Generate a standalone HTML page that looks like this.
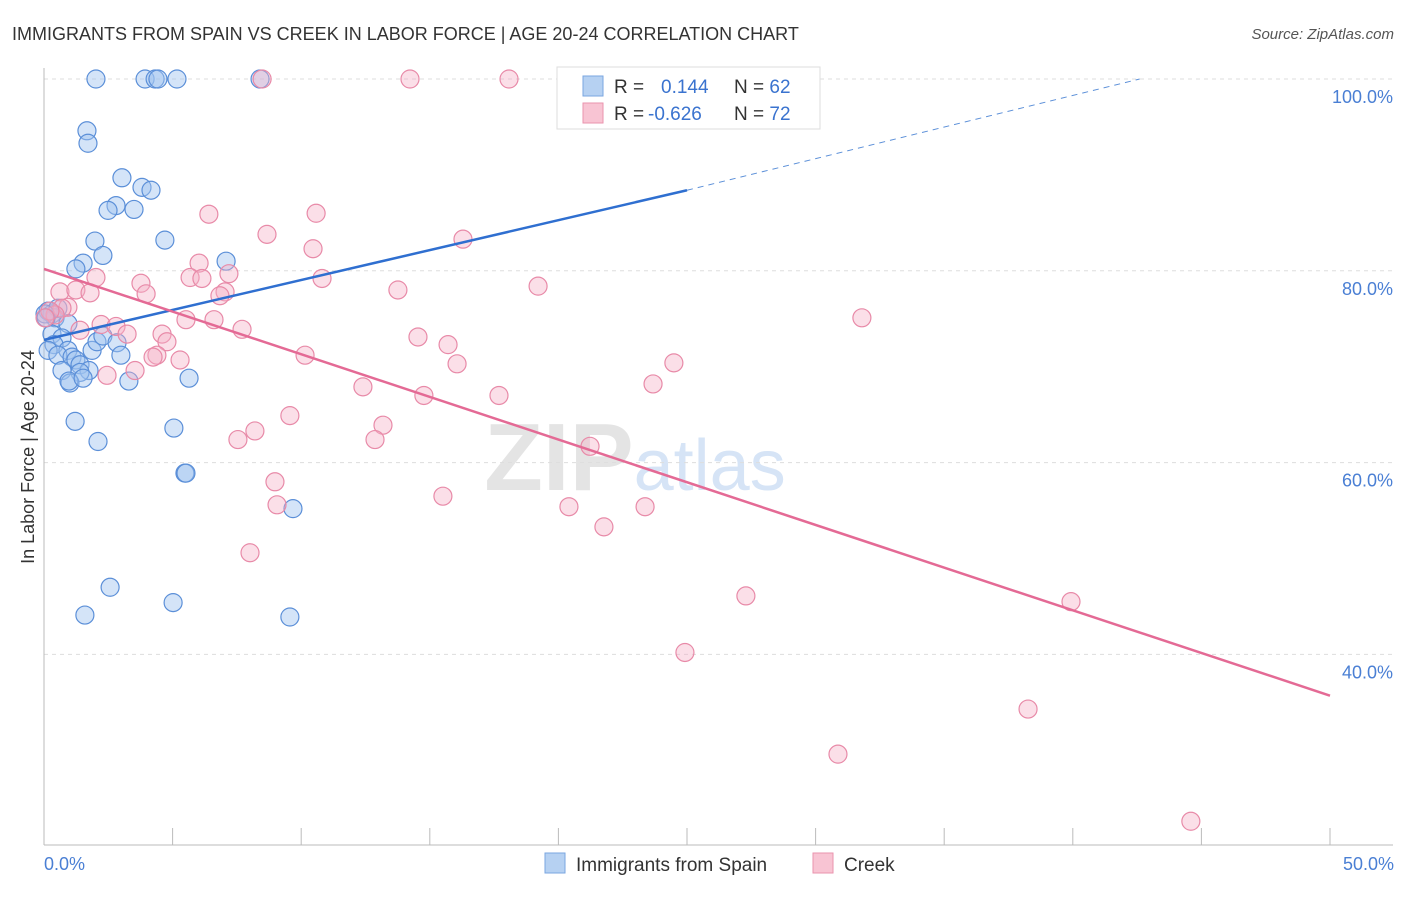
<!DOCTYPE html>
<html><head><meta charset="utf-8"><style>
body{margin:0;background:#fff;font-family:"Liberation Sans",sans-serif}
svg text{font-family:"Liberation Sans",sans-serif}
</style></head><body>
<svg width="1406" height="892" id="c">
<text x="12" y="40" font-size="18" fill="#333">IMMIGRANTS FROM SPAIN VS CREEK IN LABOR FORCE | AGE 20-24 CORRELATION CHART</text>
<text x="1394" y="39" font-size="15" fill="#555" text-anchor="end" font-style="italic">Source: ZipAtlas.com</text>
<text x="635" y="490" font-size="96" fill="#e4e4e4" text-anchor="middle" font-weight="bold">ZIP<tspan fill="#d6e4f6" font-weight="normal" font-size="72">atlas</tspan></text>
<g id="grid"></g>
<g id="axes"></g>
<g id="pts"></g>
<g id="lines"></g>
<text transform="translate(34,457) rotate(-90)" font-size="18" fill="#333" text-anchor="middle">In Labor Force | Age 20-24</text>
<text x="44" y="870" font-size="18" fill="#4a7fd4">0.0%</text>
<text x="1394" y="870" font-size="18" fill="#4a7fd4" text-anchor="end">50.0%</text>
<g>
<rect x="557" y="67" width="263" height="62" fill="#fff" stroke="#ddd"/>
<rect x="583" y="76" width="20" height="20" fill="#b6d1f2" stroke="#7aa6e0"/>
<rect x="583" y="103" width="20" height="20" fill="#f8c4d3" stroke="#ea93ae"/>
<text x="614" y="93" font-size="19" fill="#333">R = <tspan fill="#3a73cf" x="661">0.144</tspan><tspan x="734">N = </tspan><tspan fill="#3a73cf">62</tspan></text>
<text x="614" y="120" font-size="19" fill="#333">R = <tspan fill="#3a73cf" x="648">-0.626</tspan><tspan x="734">N = </tspan><tspan fill="#3a73cf">72</tspan></text>
</g>
<g>
<rect x="545" y="853" width="20" height="20" fill="#b6d1f2" stroke="#7aa6e0"/>
<text x="576" y="871" font-size="19" fill="#333">Immigrants from Spain</text>
<rect x="813" y="853" width="20" height="20" fill="#f8c4d3" stroke="#ea93ae"/>
<text x="844" y="871" font-size="19" fill="#333">Creek</text>
</g>
</svg>
<script>
const yTicks=[100,80,60,40];
const yTickLabels=["100.0%","80.0%","60.0%","40.0%"];
const xTicks=[0,5,10,15,20,25,30,35,40,45,50];
const blueX=[2.02,3.93,4.32,4.43,5.17,8.40,21.03,1.67,1.71,3.03,3.81,4.16,2.80,2.49,3.50,1.98,4.70,2.29,1.52,1.24,7.08,0.16,0.31,0.43,0.54,0.93,0.31,0.70,0.39,0.16,0.93,0.54,1.09,1.24,1.40,1.75,0.70,1.40,1.87,2.06,2.29,2.84,2.99,1.01,0.97,1.52,3.30,5.64,1.21,2.10,5.05,5.48,5.52,9.68,2.57,1.59,5.02,9.56,0.04,0.08];
const blueY=[100,100,100,100,100,100,100,94.6,93.3,89.7,88.7,88.4,86.8,86.3,86.4,83.1,83.2,81.6,80.8,80.2,81.0,75.8,75.5,75.1,76.1,74.5,73.4,73.0,72.3,71.7,71.7,71.2,71.0,70.7,70.2,69.6,69.6,69.4,71.7,72.6,73.2,72.5,71.2,68.3,68.5,68.8,68.5,68.8,64.3,62.2,63.6,58.9,58.9,55.2,47.0,44.1,45.4,43.9,75.5,75.1];
const pinkX=[8.48,14.23,18.08,6.41,10.58,8.67,10.46,16.29,6.03,2.02,3.77,7.19,5.68,6.14,10.81,13.76,19.21,0.62,1.24,1.79,3.97,7.04,6.84,0.93,0.70,0.43,5.52,6.61,2.22,2.80,3.23,7.70,4.59,4.78,14.54,15.71,31.80,10.15,4.39,4.24,5.29,16.06,24.49,2.45,3.54,12.40,14.77,17.69,23.68,9.56,8.20,7.54,13.18,12.87,21.23,8.98,9.06,15.51,20.41,21.77,23.37,8.01,27.29,39.93,24.92,38.26,30.87,44.59,0.23,0.04,1.40];
const pinkY=[100,100,100,85.9,86.0,83.8,82.3,83.3,80.8,79.3,78.7,79.7,79.3,79.2,79.2,78.0,78.4,77.8,78.0,77.7,77.6,77.8,77.4,76.2,76.1,75.4,74.9,74.9,74.4,74.2,73.4,73.9,73.4,72.6,73.1,72.3,75.1,71.2,71.2,71.0,70.7,70.3,70.4,69.1,69.6,67.9,67.0,67.0,68.2,64.9,63.3,62.4,63.9,62.4,61.7,58.0,55.6,56.5,55.4,53.3,55.4,50.6,46.1,45.5,40.2,34.3,29.6,22.6,75.8,75.1,73.8];
const X=v=>44+v*25.72, Y=v=>79+(100-v)*9.59;
const NS='http://www.w3.org/2000/svg';
function mk(t,a,p){const e=document.createElementNS(NS,t);for(const k in a)e.setAttribute(k,a[k]);p.appendChild(e);return e;}
const grid=document.getElementById('grid'),axes=document.getElementById('axes'),pts=document.getElementById('pts'),lines=document.getElementById('lines');
yTicks.forEach((v,i)=>{
 const l=mk('line',{x1:44,x2:1393,y1:Y(v),y2:Y(v),stroke:'#ddd','stroke-dasharray':'4,4'},grid);
 
 
 const t=mk('text',{x:1393,y:Y(v)+24,'font-size':18,fill:'#4a7fd4','text-anchor':'end'},grid);
 t.textContent=yTickLabels[i];
 
 
});
const ax=mk('line',{x1:44,x2:44,y1:68,y2:845,stroke:'#bbb'},axes);


const bx=mk('line',{x1:44,x2:1393,y1:845,y2:845,stroke:'#bbb'},axes);


xTicks.forEach(v=>{
 const t=mk('line',{x1:X(v),x2:X(v),y1:828,y2:845,stroke:'#bbb'},axes);
 
 
});
blueX.forEach((v,i)=>{
 const c=mk('circle',{cx:X(v),cy:Y(blueY[i]),r:9,fill:'rgba(160,195,240,0.45)',stroke:'#5b8fd8','stroke-width':1.2},pts);
 
 
});
pinkX.forEach((v,i)=>{
 const c=mk('circle',{cx:X(v),cy:Y(pinkY[i]),r:9,fill:'rgba(245,175,198,0.4)',stroke:'#e88aa8','stroke-width':1.2},pts);
 
 
});
const bl=[0,72.8,25,88.4,42.6,100];
let l1=mk('line',{x1:X(bl[0]),y1:Y(bl[1]),x2:X(bl[2]),y2:Y(bl[3]),stroke:'#2f6fd0','stroke-width':2.5},lines);


let l2=mk('line',{x1:X(bl[2]),y1:Y(bl[3]),x2:X(bl[4]),y2:Y(bl[5]),stroke:'#5b8fd8','stroke-width':1,'stroke-dasharray':'6,5'},lines);


const pl=[0,80.2,50,35.7];
let l3=mk('line',{x1:X(pl[0]),y1:Y(pl[1]),x2:X(pl[2]),y2:Y(pl[3]),stroke:'#e46a95','stroke-width':2.5},lines);


</script>
</body></html>
